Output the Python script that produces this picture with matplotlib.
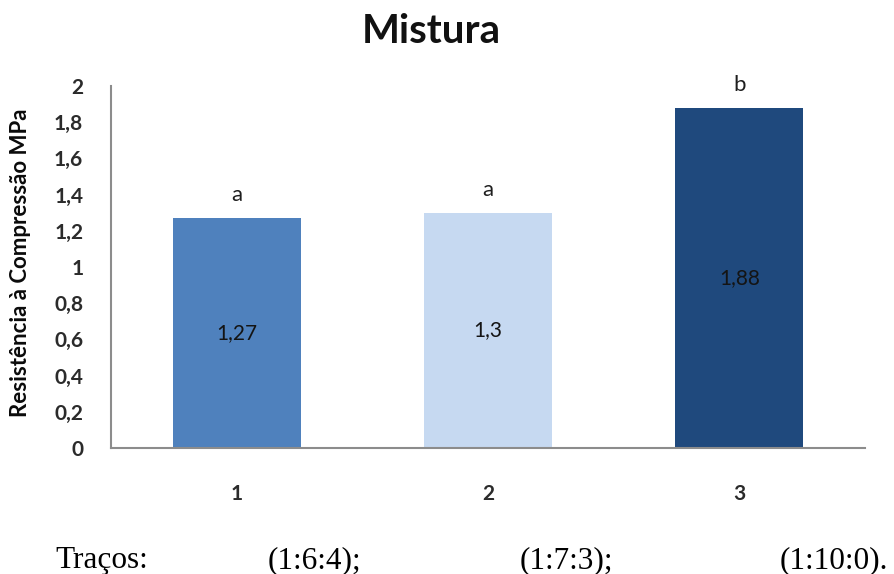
import matplotlib.pyplot as plt

# Compressive strength per mix
mixes = ['1', '2', '3']
strength = [1.27, 1.30, 1.88]
value_labels = ['1,27', '1,3', '1,88']
groups = ['a', 'a', 'b']
colors = ['#4F81BD', '#C6D9F1', '#1F497D']
yticks = [0, 0.2, 0.4, 0.6, 0.8, 1.0, 1.2, 1.4, 1.6, 1.8, 2.0]
ytick_labels = ['0', '0,2', '0,4', '0,6', '0,8', '1', '1,2', '1,4', '1,6', '1,8', '2']
footer = ['Traços:', '(1:6:4);', '(1:7:3);', '(1:10:0).']

plt.rcParams['font.family'] = ['Lato', 'DejaVu Sans']

fig = plt.figure(figsize=(8.95, 5.74), dpi=100)
ax = fig.add_axes([111 / 895, 1 - 448 / 574, 754 / 895, 362 / 574])

x = [1, 2, 3]
bars = ax.bar(x, strength, width=0.51, color=colors)

# value inside each bar, group letter above it
for xi, v, lab, g in zip(x, strength, value_labels, groups):
    ax.text(xi, v / 2, lab, ha='center', va='center', fontsize=15, color='#141414')
    ax.text(xi, v + 0.07, g, ha='center', va='bottom', fontsize=16, color='#1e1e1e')

ax.set_xlim(0.5, 3.5)
ax.set_ylim(0, 2)
ax.set_xticks(x)
ax.set_xticklabels(mixes, fontsize=15, fontweight='bold', color='#2b2b2b')
ax.set_yticks(yticks)
ax.set_yticklabels(ytick_labels, fontsize=15, fontweight='bold', color='#2b2b2b')
ax.tick_params(axis='y', length=0, pad=20)
ax.tick_params(axis='x', length=0, pad=26)

for side in ['top', 'right']:
    ax.spines[side].set_visible(False)
for side in ['left', 'bottom']:
    ax.spines[side].set_color('#8c8c8c')
    ax.spines[side].set_linewidth(1.5)

fig.text(431 / 895, 1 - 43 / 574, 'Mistura', ha='center', va='baseline',
         fontsize=29, fontweight='bold', color='#111111')
fig.text(21 / 895, 1 - 263 / 574, 'Resistência à Compressão MPa', rotation=90,
         ha='center', va='center', fontsize=16, fontweight='bold', color='#0a0a0a')

# mix proportions line below the chart
footer_x = [55, 268, 520, 780]
for fx, t in zip(footer_x, footer):
    fig.text(fx / 895, 1 - 568 / 574, t, ha='left', va='baseline',
             fontsize=22.5, family='Liberation Serif', color='black')

fig.savefig('out.png', dpi=100)
